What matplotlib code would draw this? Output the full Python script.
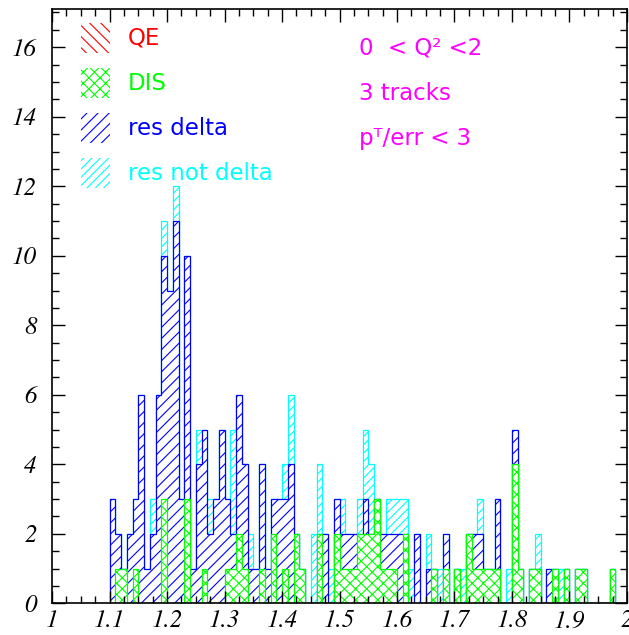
import numpy as np
import matplotlib
matplotlib.use("Agg")
import matplotlib.pyplot as plt
from matplotlib.patches import Rectangle
from matplotlib.ticker import MultipleLocator, FuncFormatter

# Histogram bins: 0.01 wide, first filled bin starts at 1.10
bin_start = 1.10
bin_width = 0.01

# Counts per bin (1.10 ... 1.99), one list per process
qe = [0] * 90
dis = [0, 1, 1, 0, 1, 0, 0, 0, 0, 3,
       0, 0, 0, 3, 0, 0, 1, 0, 0, 0,
       1, 1, 2, 1, 0, 0, 1, 0, 2, 0,
       1, 0, 2, 1, 0, 0, 2, 0, 0, 2,
       1, 1, 1, 2, 2, 2, 3, 1, 1, 1,
       0, 2, 0, 0, 0, 0, 1, 0, 1, 0,
       1, 0, 2, 1, 1, 1, 1, 1, 0, 0,
       4, 1, 0, 1, 1, 0, 0, 1, 0, 1,
       0, 1, 1, 0, 0, 0, 0, 1, 0, 0]
res_delta = [3, 1, 0, 2, 2, 6, 1, 2, 6, 7,
             9, 11, 3, 7, 1, 4, 4, 2, 3, 5,
             2, 1, 4, 3, 1, 1, 3, 1, 1, 3,
             2, 4, 0, 0, 0, 0, 0, 2, 0, 1,
             1, 1, 1, 0, 1, 0, 0, 1, 1, 1,
             2, 0, 0, 2, 0, 1, 0, 0, 1, 0,
             0, 0, 0, 1, 1, 0, 0, 2, 0, 0,
             1, 0, 0, 0, 0, 0, 1, 0, 0, 0,
             0, 0, 0, 0, 0, 0, 0, 0, 0, 0]
res_not_delta = [0, 0, 0, 0, 0, 0, 0, 1, 0, 1,
                 0, 1, 0, 0, 0, 1, 0, 1, 0, 0,
                 0, 3, 0, 0, 1, 0, 0, 0, 0, 0,
                 1, 2, 0, 0, 0, 2, 2, 0, 1, 0,
                 1, 0, 0, 1, 2, 2, 0, 0, 1, 1,
                 1, 1, 1, 0, 0, 1, 0, 1, 0, 0,
                 0, 1, 0, 0, 1, 0, 0, 0, 0, 1,
                 0, 0, 0, 0, 1, 0, 0, 0, 1, 0,
                 0, 0, 0, 0, 0, 0, 0, 0, 0, 0]

labels = ["QE", "DIS", "res delta", "res not delta"]
colors = ["#ff0000", "#00ff00", "#0000ff", "#00ffff"]
hatches = ["\\\\\\", "xxx", "///", "////"]

cut_lines = ["0  < Q\u00b2 <2", "3 tracks", "p\u1d40/err < 3"]

SANS = ["DejaVu Sans"]


def main():
    # tick labels in a Times-like italic (STIX ships with matplotlib)
    plt.rcParams["font.family"] = ["STIXGeneral"]
    plt.rcParams["font.style"] = "italic"
    plt.rcParams["hatch.linewidth"] = 0.8

    fig = plt.figure(figsize=(6.29, 6.35), dpi=100)
    ax = fig.add_axes([0.0827, 0.0499, 0.9141, 0.9359])

    edges = bin_start + bin_width * np.arange(len(dis) + 1)

    # cumulative stack, drawn from the total down (PAW style overlay)
    layers = [np.array(qe), np.array(dis), np.array(res_delta), np.array(res_not_delta)]
    cum = np.cumsum(layers, axis=0)
    for k in [3, 2, 1, 0]:
        if cum[k].sum() == 0:
            continue
        ax.stairs(cum[k], edges, baseline=0, fill=True, facecolor="white",
                  edgecolor=colors[k], hatch=hatches[k], linewidth=0.9)

    ax.set_xlim(1, 2)
    ax.set_ylim(0, 17.1)

    # ticks inward on all sides
    ax.xaxis.set_major_locator(MultipleLocator(0.1))
    ax.xaxis.set_minor_locator(MultipleLocator(0.025))
    ax.yaxis.set_major_locator(MultipleLocator(2))
    ax.yaxis.set_minor_locator(MultipleLocator(0.5))
    ax.xaxis.set_major_formatter(FuncFormatter(lambda v, p: f"{v:g}"))
    ax.yaxis.set_major_formatter(FuncFormatter(lambda v, p: f"{v:g}"))
    ax.tick_params(which="both", direction="in", top=True, right=True, width=1.0,
                   labelsize=18)
    ax.tick_params(which="major", length=9)
    ax.tick_params(which="minor", length=5)
    ax.tick_params(axis="x", pad=5)
    ax.tick_params(axis="y", pad=11)
    for sp in ax.spines.values():
        sp.set_linewidth(1.2)

    # hand-made legend in the top-left corner
    ax_w, ax_h = 575.0, 594.3
    for i, (lab, col, h) in enumerate(zip(labels, colors, hatches)):
        top = 23 + 45 * i
        y0 = (603.3 - (top + 30)) / ax_h
        ax.add_patch(Rectangle((29 / ax_w, y0), 29 / ax_w, 30 / ax_h,
                               transform=ax.transAxes, facecolor="none",
                               edgecolor=col, hatch=h, linewidth=0))
        ax.text(76 / ax_w, (603.3 - (top + 15)) / ax_h, lab, transform=ax.transAxes,
                color=col, fontsize=16.5, va="center", ha="left",
                family=SANS, style="normal")

    # selection cuts
    for i, line in enumerate(cut_lines):
        ax.text((359 - 52) / ax_w, (603.3 - (48 + 45 * i)) / ax_h, line,
                transform=ax.transAxes, color="#ff00ff", fontsize=16.5,
                va="center", ha="left", family=SANS, style="normal")

    fig.savefig("out.png", dpi=100)


if __name__ == "__main__":
    main()
